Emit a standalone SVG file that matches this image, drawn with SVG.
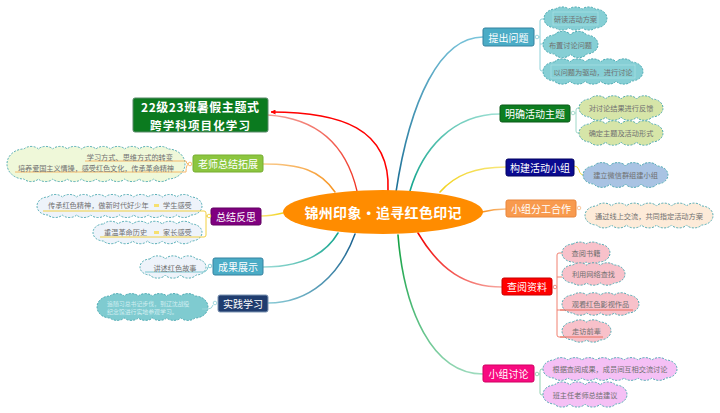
<svg xmlns="http://www.w3.org/2000/svg" width="720" height="413" viewBox="0 0 720 413">
<style>
text{font-family:"Noto Sans CJK SC","Liberation Sans",sans-serif;}
.bt{font-size:10px;fill:#fff;text-anchor:middle;dominant-baseline:central;}
.ct{font-size:7.2px;fill:#707070;text-anchor:middle;dominant-baseline:central;}
.cl{stroke:#3fa3ab;stroke-width:0.9;stroke-dasharray:2 1.4;}
.sub{fill:none;stroke-width:1;}
.dot{fill:#fff;stroke-width:0.9;}
.br{fill:none;stroke-linecap:round;}
</style>
<defs>
<marker id="ah" viewBox="0 0 10 10" refX="9" refY="5" markerWidth="5" markerHeight="5" orient="auto" markerUnits="userSpaceOnUse">
<path d="M0,0 L10,5 L0,10 z" fill="#ff0000"/>
</marker>
<linearGradient id="g1" gradientUnits="userSpaceOnUse" x1="396" y1="192" x2="483" y2="37"><stop offset="0" stop-color="#1b6f96"/><stop offset="1" stop-color="#7cc6dc"/></linearGradient>
<linearGradient id="g2" gradientUnits="userSpaceOnUse" x1="410" y1="191" x2="500" y2="114"><stop offset="0" stop-color="#13a58e"/><stop offset="1" stop-color="#9ee0d4"/></linearGradient>
<linearGradient id="g3" gradientUnits="userSpaceOnUse" x1="440" y1="192" x2="506" y2="167"><stop offset="0" stop-color="#f2d21c"/><stop offset="1" stop-color="#f8e880"/></linearGradient>
<linearGradient id="g4" gradientUnits="userSpaceOnUse" x1="482" y1="212" x2="506" y2="209"><stop offset="0" stop-color="#f7901e"/><stop offset="1" stop-color="#f9c08a"/></linearGradient>
<linearGradient id="g5" gradientUnits="userSpaceOnUse" x1="418" y1="233" x2="502" y2="287"><stop offset="0" stop-color="#f00000"/><stop offset="1" stop-color="#f7a8a0"/></linearGradient>
<linearGradient id="g6" gradientUnits="userSpaceOnUse" x1="398" y1="235" x2="483" y2="374"><stop offset="0" stop-color="#10a040"/><stop offset="1" stop-color="#a0dcc0"/></linearGradient>
<linearGradient id="g7" gradientUnits="userSpaceOnUse" x1="357" y1="191" x2="268" y2="115"><stop offset="0" stop-color="#f03020"/><stop offset="1" stop-color="#f4a098"/></linearGradient>
<linearGradient id="g8" gradientUnits="userSpaceOnUse" x1="335" y1="192" x2="263" y2="164"><stop offset="0" stop-color="#f79420"/><stop offset="1" stop-color="#f9cc90"/></linearGradient>
<linearGradient id="g9" gradientUnits="userSpaceOnUse" x1="283" y1="213" x2="261" y2="216"><stop offset="0" stop-color="#f2d21c"/><stop offset="1" stop-color="#f8e47a"/></linearGradient>
<linearGradient id="g10" gradientUnits="userSpaceOnUse" x1="338" y1="233" x2="263" y2="267"><stop offset="0" stop-color="#13a58e"/><stop offset="1" stop-color="#9edcd8"/></linearGradient>
<linearGradient id="g11" gradientUnits="userSpaceOnUse" x1="355" y1="234" x2="268" y2="303"><stop offset="0" stop-color="#175f8e"/><stop offset="1" stop-color="#8acbd6"/></linearGradient>
</defs>
<rect width="720" height="413" fill="#fff"/>

<g id="connectors">
<path class="br" d="M396,192 C410,100 440,37 483,37" stroke="url(#g1)" stroke-width="1.6"/>
<path class="br" d="M410,191 C422,150 452,114 500,114" stroke="url(#g2)" stroke-width="1.6"/>
<path class="br" d="M440,192 C455,175 475,167 506,167" stroke="url(#g3)" stroke-width="1.6"/>
<path class="br" d="M482,212 C490,210 496,209 506,209" stroke="url(#g4)" stroke-width="1.6"/>
<path class="br" d="M418,233 C440,270 465,287 502,287" stroke="url(#g5)" stroke-width="1.6"/>
<path class="br" d="M398,235 C404,310 432,374 483,374" stroke="url(#g6)" stroke-width="1.6"/>
<path class="br" d="M357,191 C345,140 312,118 268,115" stroke="url(#g7)" stroke-width="1.3"/>
<path class="br" d="M335,192 C320,170 300,164 263,164" stroke="url(#g8)" stroke-width="1.5"/>
<path class="br" d="M283,213 C275,215 270,216 261,216" stroke="url(#g9)" stroke-width="1.5"/>
<path class="br" d="M338,233 C325,255 300,267 263,267" stroke="url(#g10)" stroke-width="1.5"/>
<path class="br" d="M355,234 C340,275 310,303 268,303" stroke="url(#g11)" stroke-width="1.5"/>
<path d="M388,191 C391,128 340,112 271,112" fill="none" stroke="#ff0000" stroke-width="1.6" marker-end="url(#ah)"/>
<path class="sub" stroke="#8fd0d8" d="M539,37 H540 M544,19 H542 Q540,19 540,21 V69 Q540,71 542,71 H544 M540,44 H543"/>
<circle class="dot" stroke="#8fd0d8" cx="537" cy="37" r="1.8"/>
<path class="sub" stroke="#9ed8c8" d="M575,113 H576 M580,108 H578 Q576,108 576,110 V131 Q576,133 578,133 H580"/>
<circle class="dot" stroke="#9ed8c8" cx="573" cy="113" r="1.8"/>
<path class="sub" stroke="#f0d840" d="M574,166 Q578,166 579,170 Q580,175 584,175"/>
<circle class="dot" stroke="#f8c090" cx="579" cy="208" r="1.8"/>
<path class="sub" stroke="#f08070" d="M554,287 H557 M562,253 H559 Q557,253 557,255 V335 Q557,337 559,337 H603 M557,277 H562 M557,310 H633"/>
<circle class="dot" stroke="#f08070" cx="555" cy="287" r="1.8"/>
<path class="sub" stroke="#90d0b0" d="M539,374 H540 M543,369 H542 Q540,369 540,371 V393 Q540,395 542,395 H543"/>
<circle class="dot" stroke="#90d0b0" cx="537" cy="374" r="1.8"/>
</g>

<g id="center">
<ellipse cx="383" cy="212" rx="100" ry="22" fill="#ff8c00"/>
<text x="383" y="212" font-size="14" font-weight="bold" fill="#fff" text-anchor="middle" dominant-baseline="central" textLength="157" lengthAdjust="spacing">锦州印象•追寻红色印记</text>
</g>

<g id="title">
<rect x="133" y="98" width="135" height="34" rx="2" fill="#0b7a1f" stroke="#5b8a6b"/>
<text x="200" y="106.5" font-size="12" font-weight="bold" fill="#fff" text-anchor="middle" dominant-baseline="central" textLength="118" lengthAdjust="spacing">22级23班暑假主题式</text>
<text x="200" y="124.5" font-size="11.5" font-weight="bold" fill="#fff" text-anchor="middle" dominant-baseline="central" textLength="100" lengthAdjust="spacing">跨学科项目化学习</text>
</g>

<g id="n-tichu">
<rect x="483" y="28" width="51" height="18" rx="2" fill="#4bacc6" stroke="#3582a0"/>
<text class="bt" x="508.5" y="37">提出问题</text>
<path class="cl" fill="#86cfd5" d="M555.5,9 a8.5 5.5 0 0 1 13.33 0 a8.5 5.5 0 0 1 13.33 0 a8.5 5.5 0 0 1 13.34 0 a11.5 9.5 0 0 1 0 19 a8.5 5.5 0 0 1 -13.33 0 a8.5 5.5 0 0 1 -13.33 0 a8.5 5.5 0 0 1 -13.34 0 a11.5 9.5 0 0 1 0 -19z"/>
<rect x="553" y="12" width="45" height="13" fill="none" stroke="#a9e0e4" stroke-width="0.7"/>
<text class="ct" x="575.5" y="18.5">研读活动方案</text>
<path class="cl" fill="#86cfd5" d="M554.5,35 a8.5 5.5 0 0 1 16 0 a8.5 5.5 0 0 1 16 0 a11.5 9.5 0 0 1 0 19 a8.5 5.5 0 0 1 -16 0 a8.5 5.5 0 0 1 -16 0 a11.5 9.5 0 0 1 0 -19z"/>
<text class="ct" x="570.5" y="44.5">布置讨论问题</text>
<path class="cl" fill="#86cfd5" d="M554.5,62 a8.5 5.5 0 0 1 15.4 0 a8.5 5.5 0 0 1 15.4 0 a8.5 5.5 0 0 1 15.4 0 a8.5 5.5 0 0 1 15.4 0 a8.5 5.5 0 0 1 15.4 0 a11.5 9.5 0 0 1 0 19 a8.5 5.5 0 0 1 -15.4 0 a8.5 5.5 0 0 1 -15.4 0 a8.5 5.5 0 0 1 -15.4 0 a8.5 5.5 0 0 1 -15.4 0 a8.5 5.5 0 0 1 -15.4 0 a11.5 9.5 0 0 1 0 -19z"/>
<rect x="551" y="65" width="84" height="13" fill="none" stroke="#a9e0e4" stroke-width="0.7"/>
<text class="ct" x="593" y="71.5">以问题为驱动，进行讨论</text>
</g>

<g id="n-mingque">
<rect x="500" y="105" width="70" height="17" rx="2" fill="#0d7d20" stroke="#0a5a18"/>
<text class="bt" x="535" y="113.5">明确活动主题</text>
<path class="cl" fill="#d6e5a8" d="M590,99 a8.5 5.5 0 0 1 15.5 0 a8.5 5.5 0 0 1 15.5 0 a8.5 5.5 0 0 1 15.5 0 a8.5 5.5 0 0 1 15.5 0 a11 9 0 0 1 0 18 a8.5 5.5 0 0 1 -15.5 0 a8.5 5.5 0 0 1 -15.5 0 a8.5 5.5 0 0 1 -15.5 0 a8.5 5.5 0 0 1 -15.5 0 a11 9 0 0 1 0 -18z"/>
<text class="ct" x="621" y="108" fill="#8a8a80">对讨论结果进行反馈</text>
<path class="cl" fill="#d6e5a8" d="M590,124 a8.5 5.5 0 0 1 15.5 0 a8.5 5.5 0 0 1 15.5 0 a8.5 5.5 0 0 1 15.5 0 a8.5 5.5 0 0 1 15.5 0 a11 9 0 0 1 0 18 a8.5 5.5 0 0 1 -15.5 0 a8.5 5.5 0 0 1 -15.5 0 a8.5 5.5 0 0 1 -15.5 0 a8.5 5.5 0 0 1 -15.5 0 a11 9 0 0 1 0 -18z"/>
<text class="ct" x="621" y="133" fill="#8a8a80">确定主题及活动形式</text>
</g>

<g id="n-goujian">
<rect x="506" y="159" width="68" height="17" rx="2" fill="#0a0a90" stroke="#000060"/>
<text class="bt" x="540" y="167.5">构建活动小组</text>
<path class="cl" fill="#a9c3e3" d="M594,166 a8.5 5.5 0 0 1 15.75 0 a8.5 5.5 0 0 1 15.75 0 a8.5 5.5 0 0 1 15.75 0 a8.5 5.5 0 0 1 15.75 0 a11 9 0 0 1 0 18 a8.5 5.5 0 0 1 -15.75 0 a8.5 5.5 0 0 1 -15.75 0 a8.5 5.5 0 0 1 -15.75 0 a8.5 5.5 0 0 1 -15.75 0 a11 9 0 0 1 0 -18z"/>
<text class="ct" x="625.5" y="175" fill="#8a96a6">建立微信群组建小组</text>
</g>

<g id="n-fengong">
<rect x="506" y="200" width="70" height="17" rx="2" fill="#f89a4e" stroke="#e8853a"/>
<text class="bt" x="541" y="208.5">小组分工合作</text>
<path class="cl" fill="#fdebd9" d="M596.5,206 a8.5 5.5 0 0 1 15 0 a8.5 5.5 0 0 1 15 0 a8.5 5.5 0 0 1 15 0 a8.5 5.5 0 0 1 15 0 a8.5 5.5 0 0 1 15 0 a8.5 5.5 0 0 1 15 0 a8.5 5.5 0 0 1 15 0 a11.5 9.5 0 0 1 0 19 a8.5 5.5 0 0 1 -15 0 a8.5 5.5 0 0 1 -15 0 a8.5 5.5 0 0 1 -15 0 a8.5 5.5 0 0 1 -15 0 a8.5 5.5 0 0 1 -15 0 a8.5 5.5 0 0 1 -15 0 a8.5 5.5 0 0 1 -15 0 a11.5 9.5 0 0 1 0 -19z"/>
<text class="ct" x="649" y="215.5" fill="#505050">通过线上交流，共同指定活动方案</text>
</g>

<g id="n-chayue">
<rect x="502" y="278" width="50" height="17" rx="2" fill="#ff0000" stroke="#c80000"/>
<text class="bt" x="527" y="286.5">查阅资料</text>
<path class="cl" fill="#f8c1ca" d="M573,244 a8.5 5.5 0 0 1 13 0 a8.5 5.5 0 0 1 13 0 a11 9 0 0 1 0 18 a8.5 5.5 0 0 1 -13 0 a8.5 5.5 0 0 1 -13 0 a11 9 0 0 1 0 -18z"/>
<text class="ct" x="586" y="253" fill="#a08890">查阅书籍</text>
<path class="cl" fill="#f8c1ca" d="M573,265 a8.5 5.5 0 0 1 13.67 0 a8.5 5.5 0 0 1 13.67 0 a8.5 5.5 0 0 1 13.66 0 a11 9 0 0 1 0 18 a8.5 5.5 0 0 1 -13.67 0 a8.5 5.5 0 0 1 -13.67 0 a8.5 5.5 0 0 1 -13.66 0 a11 9 0 0 1 0 -18z"/>
<text class="ct" x="593.5" y="274" fill="#a08890">利用网络查找</text>
<path class="cl" fill="#f8c1ca" d="M573,295 a8.5 5.5 0 0 1 13.75 0 a8.5 5.5 0 0 1 13.75 0 a8.5 5.5 0 0 1 13.75 0 a8.5 5.5 0 0 1 13.75 0 a11 9 0 0 1 0 18 a8.5 5.5 0 0 1 -13.75 0 a8.5 5.5 0 0 1 -13.75 0 a8.5 5.5 0 0 1 -13.75 0 a8.5 5.5 0 0 1 -13.75 0 a11 9 0 0 1 0 -18z"/>
<text class="ct" x="600.5" y="304" fill="#604850">观看红色影视作品</text>
<path class="cl" fill="#f8c1ca" d="M573,322 a8.5 5.5 0 0 1 13.5 0 a8.5 5.5 0 0 1 13.5 0 a11 9 0 0 1 0 18 a8.5 5.5 0 0 1 -13.5 0 a8.5 5.5 0 0 1 -13.5 0 a11 9 0 0 1 0 -18z"/>
<text class="ct" x="586.5" y="331" fill="#604850">走访前辈</text>
<path class="sub" stroke="#e87060" d="M560,310 H633 M560,337 H603"/>
</g>

<g id="n-taolun">
<rect x="483" y="365" width="51" height="17" rx="2" fill="#f80a80" stroke="#d00060"/>
<text class="bt" x="508.5" y="373.5">小组讨论</text>
<path class="cl" fill="#f5c0f5" d="M554,360 a8.5 5.5 0 0 1 14 0 a8.5 5.5 0 0 1 14 0 a8.5 5.5 0 0 1 14 0 a8.5 5.5 0 0 1 14 0 a8.5 5.5 0 0 1 14 0 a8.5 5.5 0 0 1 14 0 a8.5 5.5 0 0 1 14 0 a8.5 5.5 0 0 1 14 0 a11 9 0 0 1 0 18 a8.5 5.5 0 0 1 -14 0 a8.5 5.5 0 0 1 -14 0 a8.5 5.5 0 0 1 -14 0 a8.5 5.5 0 0 1 -14 0 a8.5 5.5 0 0 1 -14 0 a8.5 5.5 0 0 1 -14 0 a8.5 5.5 0 0 1 -14 0 a8.5 5.5 0 0 1 -14 0 a11 9 0 0 1 0 -18z"/>
<text class="ct" x="610" y="369" fill="#9a889a" font-size="7.5">根据查阅成果，成员间互相交流讨论</text>
<path class="cl" fill="#f5c0f5" d="M554.5,385 a8.5 5.5 0 0 1 15.25 0 a8.5 5.5 0 0 1 15.25 0 a8.5 5.5 0 0 1 15.25 0 a8.5 5.5 0 0 1 15.25 0 a11.5 9.5 0 0 1 0 19 a8.5 5.5 0 0 1 -15.25 0 a8.5 5.5 0 0 1 -15.25 0 a8.5 5.5 0 0 1 -15.25 0 a8.5 5.5 0 0 1 -15.25 0 a11.5 9.5 0 0 1 0 -19z"/>
<text class="ct" x="585" y="394.5" fill="#9a889a">班主任老师总结建议</text>
</g>

<g id="n-laoshi">
<rect x="193" y="155" width="70" height="17" rx="2" fill="#8cc63f" stroke="#76ad30"/>
<text class="bt" x="228" y="163.5">老师总结拓展</text>
<path class="cl" fill="#eff8d9" d="M24,149 a8.5 5.5 0 0 1 14.4 0 a8.5 5.5 0 0 1 14.4 0 a8.5 5.5 0 0 1 14.4 0 a8.5 5.5 0 0 1 14.4 0 a8.5 5.5 0 0 1 14.4 0 a8.5 5.5 0 0 1 14.4 0 a8.5 5.5 0 0 1 14.4 0 a8.5 5.5 0 0 1 14.4 0 a8.5 5.5 0 0 1 14.4 0 a8.5 5.5 0 0 1 14.4 0 a17 15 0 0 1 0 30 a8.5 5.5 0 0 1 -14.4 0 a8.5 5.5 0 0 1 -14.4 0 a8.5 5.5 0 0 1 -14.4 0 a8.5 5.5 0 0 1 -14.4 0 a8.5 5.5 0 0 1 -14.4 0 a8.5 5.5 0 0 1 -14.4 0 a8.5 5.5 0 0 1 -14.4 0 a8.5 5.5 0 0 1 -14.4 0 a8.5 5.5 0 0 1 -14.4 0 a8.5 5.5 0 0 1 -14.4 0 a17 15 0 0 1 0 -30z"/>
<path class="sub" stroke="#f6b868" d="M189,164 Q186,164 186,161 H85 M189,164 Q186,164 186,172 H15"/>
<circle class="dot" stroke="#f6b868" cx="190" cy="164" r="1.8"/>
<text class="ct" x="173" y="156.5" style="text-anchor:end" fill="#555">学习方式、思维方式的转变</text>
<text class="ct" x="96" y="167.5" fill="#555" textLength="156" lengthAdjust="spacing">培养爱国主义情操，感受红色文化，传承革命精神</text>
</g>

<g id="n-zongjie">
<rect x="211" y="208" width="50" height="17" rx="2" fill="#800080" stroke="#600060"/>
<text class="bt" x="236" y="216.5">总结反思</text>
<path class="cl" fill="#eef3fa" d="M48,197 a8.5 5.5 0 0 1 14.3 0 a8.5 5.5 0 0 1 14.3 0 a8.5 5.5 0 0 1 14.3 0 a8.5 5.5 0 0 1 14.3 0 a8.5 5.5 0 0 1 14.3 0 a8.5 5.5 0 0 1 14.3 0 a8.5 5.5 0 0 1 14.3 0 a8.5 5.5 0 0 1 14.3 0 a8.5 5.5 0 0 1 14.3 0 a8.5 5.5 0 0 1 14.3 0 a11 9 0 0 1 0 18 a8.5 5.5 0 0 1 -14.3 0 a8.5 5.5 0 0 1 -14.3 0 a8.5 5.5 0 0 1 -14.3 0 a8.5 5.5 0 0 1 -14.3 0 a8.5 5.5 0 0 1 -14.3 0 a8.5 5.5 0 0 1 -14.3 0 a8.5 5.5 0 0 1 -14.3 0 a8.5 5.5 0 0 1 -14.3 0 a8.5 5.5 0 0 1 -14.3 0 a8.5 5.5 0 0 1 -14.3 0 a11 9 0 0 1 0 -18z"/>
<path class="cl" fill="#eef3fa" d="M103.5,224 a8.5 5.5 0 0 1 14.67 0 a8.5 5.5 0 0 1 14.67 0 a8.5 5.5 0 0 1 14.66 0 a8.5 5.5 0 0 1 14.67 0 a8.5 5.5 0 0 1 14.67 0 a8.5 5.5 0 0 1 14.66 0 a10.5 8.5 0 0 1 0 17 a8.5 5.5 0 0 1 -14.67 0 a8.5 5.5 0 0 1 -14.67 0 a8.5 5.5 0 0 1 -14.66 0 a8.5 5.5 0 0 1 -14.67 0 a8.5 5.5 0 0 1 -14.67 0 a8.5 5.5 0 0 1 -14.66 0 a10.5 8.5 0 0 1 0 -17z"/>
<path class="sub" stroke="#f2d040" d="M209,216 H206 M43,211 H204 Q206,211 206,213 V235 Q206,237 204,237 H100"/>
<circle class="dot" stroke="#f2d040" cx="209" cy="216" r="1.8"/>
<rect x="154" y="204" width="5" height="3" fill="#f6e070"/>
<rect x="154" y="231" width="5" height="3" fill="#f6e070"/>
<text class="ct" x="48" y="205" style="text-anchor:start" fill="#555">传承红色精神，做新时代好少年</text>
<text class="ct" x="163" y="205" style="text-anchor:start" fill="#555">学生感受</text>
<text class="ct" x="104" y="232" style="text-anchor:start" fill="#555">重温革命历史</text>
<text class="ct" x="163" y="232" style="text-anchor:start" fill="#555">家长感受</text>
</g>

<g id="n-chengguo">
<rect x="213" y="258" width="50" height="17" rx="2" fill="#4bacc6" stroke="#3582a0"/>
<text class="bt" x="238" y="266.5">成果展示</text>
<path class="cl" fill="#eef3fa" d="M150,259 a8.5 5.5 0 0 1 15.33 0 a8.5 5.5 0 0 1 15.34 0 a8.5 5.5 0 0 1 15.33 0 a10 8 0 0 1 0 16 a8.5 5.5 0 0 1 -15.33 0 a8.5 5.5 0 0 1 -15.34 0 a8.5 5.5 0 0 1 -15.33 0 a10 8 0 0 1 0 -16z"/>
<path class="sub" stroke="#7cc8d0" d="M145,272 H203 Q207,272 208,267"/>
<circle class="dot" stroke="#7cc8d0" cx="210" cy="266" r="1.8"/>
<text class="ct" x="175" y="267.5" fill="#555">讲述红色故事</text>
</g>

<g id="n-shijian">
<rect x="218" y="295" width="50" height="17" rx="2" fill="#1f3c6e" stroke="#7f96b4"/>
<text class="bt" x="243" y="303.5">实践学习</text>
<path class="cl" fill="#7fcbd0" d="M110,296 a8.5 5.5 0 0 1 14.17 0 a8.5 5.5 0 0 1 14.17 0 a8.5 5.5 0 0 1 14.16 0 a8.5 5.5 0 0 1 14.17 0 a8.5 5.5 0 0 1 14.17 0 a8.5 5.5 0 0 1 14.16 0 a13 11 0 0 1 0 22 a8.5 5.5 0 0 1 -14.17 0 a8.5 5.5 0 0 1 -14.17 0 a8.5 5.5 0 0 1 -14.16 0 a8.5 5.5 0 0 1 -14.17 0 a8.5 5.5 0 0 1 -14.17 0 a8.5 5.5 0 0 1 -14.16 0 a13 11 0 0 1 0 -22z"/>
<path class="sub" stroke="#9ad4da" d="M202,309 H208 Q212,309 213,305"/>
<circle class="dot" stroke="#9ad4da" cx="215" cy="303" r="1.8"/>
<text x="107" y="303.5" font-size="5.9" fill="#d2eef0" dominant-baseline="central">追随习总书记步伐，到辽沈战役</text>
<text x="107" y="311.5" font-size="5.9" fill="#d2eef0" dominant-baseline="central">纪念馆进行实地参观学习。</text>
</g>
</svg>
